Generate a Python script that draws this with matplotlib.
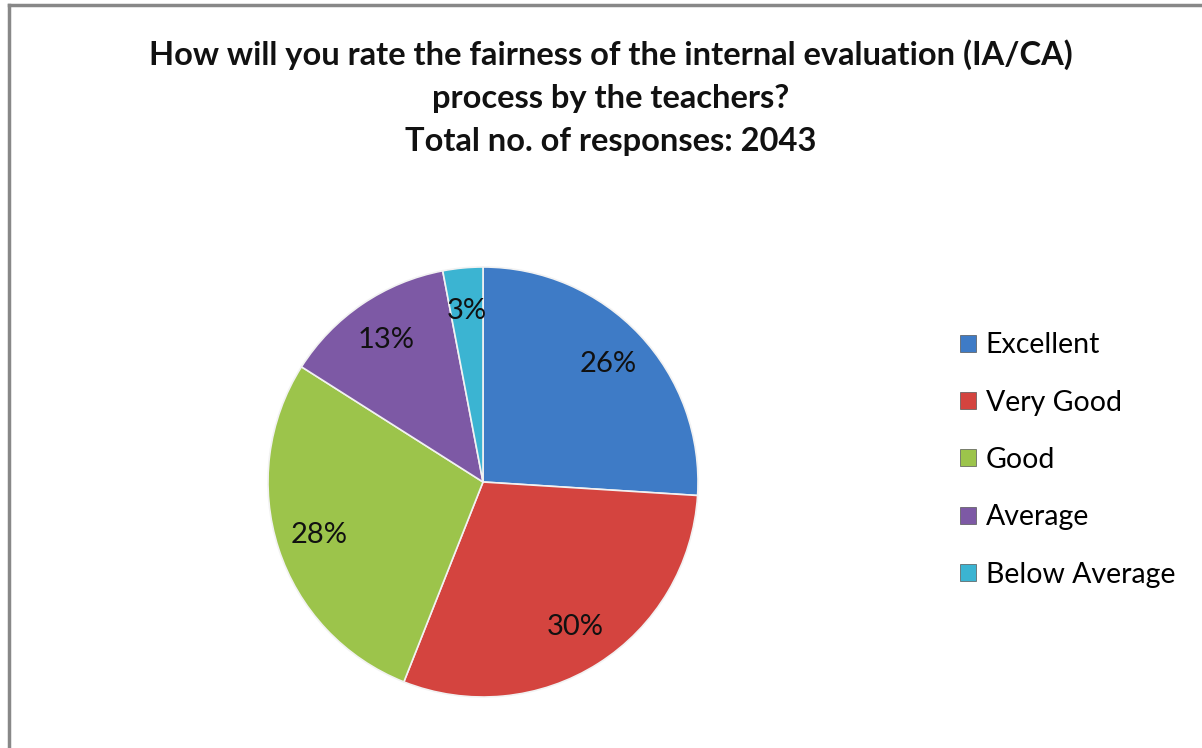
import matplotlib
matplotlib.use("Agg")
import matplotlib.pyplot as plt
from matplotlib.lines import Line2D
from matplotlib.patches import Patch

categories = ["Excellent", "Very Good", "Good", "Average", "Below Average"]
shares = [26, 30, 28, 13, 3]
colors = ["#3E7BC6", "#D4443F", "#9CC44B", "#7D59A5", "#3BB4D2"]
title = ("How will you rate the fairness of the internal evaluation (IA/CA)\n"
         "process by the teachers?\n"
         "Total no. of responses: 2043")

plt.rcParams["font.family"] = ["Lato", "DejaVu Sans"]

W, H = 1202, 748
fig = plt.figure(figsize=(W / 100, H / 100), dpi=100)
fig.patch.set_facecolor("white")

# grey frame (only top and left visible in the crop)
fig.add_artist(Line2D([9 / W, 9 / W], [0, 1 - 5 / H], transform=fig.transFigure,
                      color="#888888", linewidth=2.5))
fig.add_artist(Line2D([9 / W, 1], [1 - 5 / H, 1 - 5 / H], transform=fig.transFigure,
                      color="#888888", linewidth=2.5))

fig.text(611 / W, 1 - 98 / H, title, ha="center", va="center",
         fontsize=23.5, fontweight="bold", linespacing=1.58, color="#111111")

cx, cy, r = 483, 482, 215
ax = fig.add_axes([(cx - r) / W, (H - cy - r) / H, 2 * r / W, 2 * r / H])
wedges, texts, autotexts = ax.pie(
    shares, colors=colors, startangle=90, counterclock=False,
    autopct="%d%%", pctdistance=0.8,
    wedgeprops=dict(edgecolor="#f2f2f2", linewidth=1.2),
    textprops=dict(fontsize=21, color="#111111"))
ax.set_aspect("equal")
ax.set_xlim(-1, 1)
ax.set_ylim(-1, 1)

handles = [Patch(facecolor=c, edgecolor="#555555", linewidth=0.5) for c in colors]
fig.legend(handles, categories, loc="upper left",
           bbox_to_anchor=(946 / W, 1 - 318 / H), frameon=False,
           fontsize=20.5, handlelength=0.55, handleheight=0.55,
           handletextpad=0.35, labelspacing=1.1, borderpad=0)

fig.savefig("out.png", dpi=100)
